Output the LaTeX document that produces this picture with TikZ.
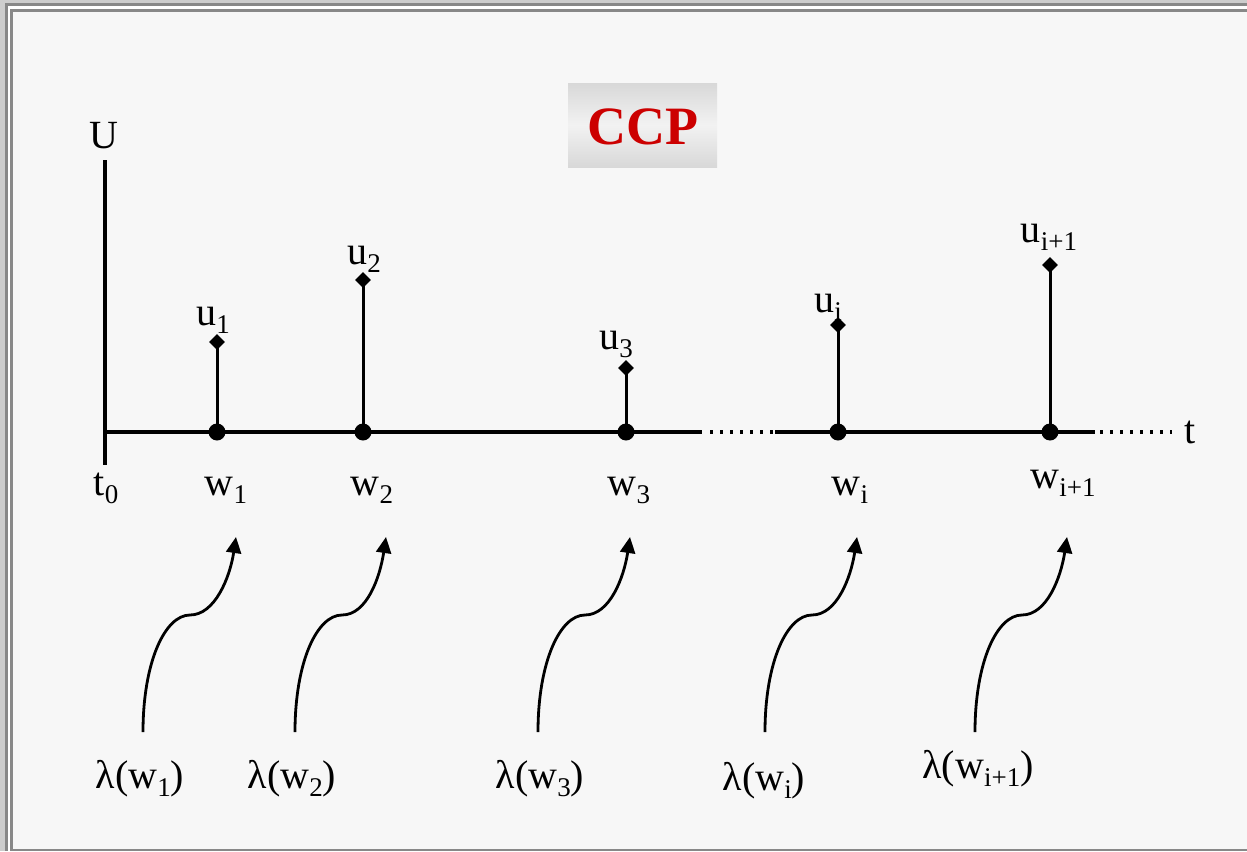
\documentclass[tikz,border=0pt]{standalone}
\usepackage{fontspec}
\setmainfont{Liberation Serif}
\usetikzlibrary{arrows.meta,shapes.geometric}
\newcommand\sbs[1]{\raisebox{-0.2em}{\fontsize{27}{27}\selectfont #1}}
\definecolor{framedark}{HTML}{888888}
\definecolor{frameout}{HTML}{CDCDCD}
\definecolor{paper}{HTML}{F7F7F7}
\definecolor{titlered}{HTML}{CC0000}
\definecolor{boxgray}{HTML}{D8D8D8}
\definecolor{boxlight}{HTML}{F2F2F2}
\begin{document}
\begin{tikzpicture}[x=1pt,y=-1pt,
  lbl/.style={anchor=base, inner sep=0pt, font=\fontsize{40}{48}\selectfont},
  ax/.style={line width=3.2pt},
  dotline/.style={line width=3.2pt, dash pattern=on 3.2pt off 6.8pt},
  stem/.style={line width=3pt},
  dotnode/.style={circle, fill=black, inner sep=0pt, minimum size=17pt},
  dia/.style={diamond, fill=black, inner sep=0pt, minimum size=16pt},
  arr/.style={line width=2.8pt, -{Triangle[length=16pt,width=15pt]}},
]
\useasboundingbox (0,0) rectangle (1247,851);
% frame
\fill[frameout] (0,0) rectangle (1247,851);
\fill[framedark] (5,3) rectangle (1247,851);
\fill[white] (8,6) rectangle (1247,851);
\fill[framedark] (10,9) rectangle (1247,851);
\fill[paper] (13,12) rectangle (1247,849);

% title
\node[draw=none, inner sep=0pt, minimum width=149pt, minimum height=84pt,
  top color=boxgray, bottom color=boxgray, middle color=boxlight] (title) at (642.5,125) {};
\node[inner sep=0pt, text=titlered, font=\fontsize{54}{60}\selectfont\bfseries] (titletext) at (643,127) {CCP};

% axes
\coordinate (o) at (105,432);
\coordinate (ytop) at (105,160);
\coordinate (ybot) at (105,465);
\draw[ax] (ytop) -- (ybot);
\coordinate (a1) at (702,432);
\coordinate (a2) at (710,432);
\coordinate (a3) at (775,432);
\coordinate (a4) at (1095,432);
\coordinate (a5) at (1100,432);
\coordinate (a6) at (1172,432);
\draw[ax] (o) -- (a1);
\draw[dotline] (a2) -- (a3);
\draw[ax] (a3) -- (a4);
\draw[dotline] (a5) -- (a6);

\node[lbl] (U) at (104,148) {U};
\node[lbl] (t) at (1190,443) {t};

% events
\coordinate (d1) at (217,432);
\coordinate (d2) at (363,432);
\coordinate (d3) at (626,432);
\coordinate (d4) at (838,432);
\coordinate (d5) at (1050,432);
\coordinate (p1) at (217,342);
\coordinate (p2) at (363,280);
\coordinate (p3) at (626,368);
\coordinate (p4) at (838,325);
\coordinate (p5) at (1050,265);
\foreach \i in {1,...,5} {
  \draw[stem] (d\i) -- (p\i);
  \node[dotnode] (dot\i) at (d\i) {};
  \node[dia] (dia\i) at (p\i) {};
}

% u labels
\node[lbl] (u1) at (213,325) {u\sbs{1}};
\node[lbl] (u2) at (364,264) {u\sbs{2}};
\node[lbl] (u3) at (616,349) {u\sbs{3}};
\node[lbl] (ui) at (828,312) {u\sbs{i}};
\node[lbl] (uip) at (1049,242) {u\sbs{i+1}};

% w labels
\node[lbl] (t0) at (106,495) {t\sbs{0}};
\node[lbl] (w1) at (226,495) {w\sbs{1}};
\node[lbl] (w2) at (372,495) {w\sbs{2}};
\node[lbl] (w3) at (629,495) {w\sbs{3}};
\node[lbl] (wi) at (850,495) {w\sbs{i}};
\node[lbl] (wip) at (1063,488) {w\sbs{i+1}};

% lambda labels
\node[lbl] (l1) at (140,788) {λ(w\sbs{1})};
\node[lbl] (l2) at (292,788) {λ(w\sbs{2})};
\node[lbl] (l3) at (540,788) {λ(w\sbs{3})};
\node[lbl] (l4) at (764,790) {λ(w\sbs{i})};
\node[lbl] (l5) at (978,778) {λ(w\sbs{i+1})};

% arrows
\coordinate (s1) at (143,732); \coordinate (e1) at (236,537);
\coordinate (s2) at (295,732); \coordinate (e2) at (386,537);
\coordinate (s3) at (538,732); \coordinate (e3) at (630,537);
\coordinate (s4) at (765,732); \coordinate (e4) at (857,537);
\coordinate (s5) at (975,732); \coordinate (e5) at (1067,537);
\foreach \i in {1,...,5} {
  \draw[arr] (s\i) .. controls +(0,-70) and +(-25,0) .. ++(47,-117)
                   .. controls +(25,0) and +(-6,40) .. (e\i);
}
\end{tikzpicture}
\end{document}
